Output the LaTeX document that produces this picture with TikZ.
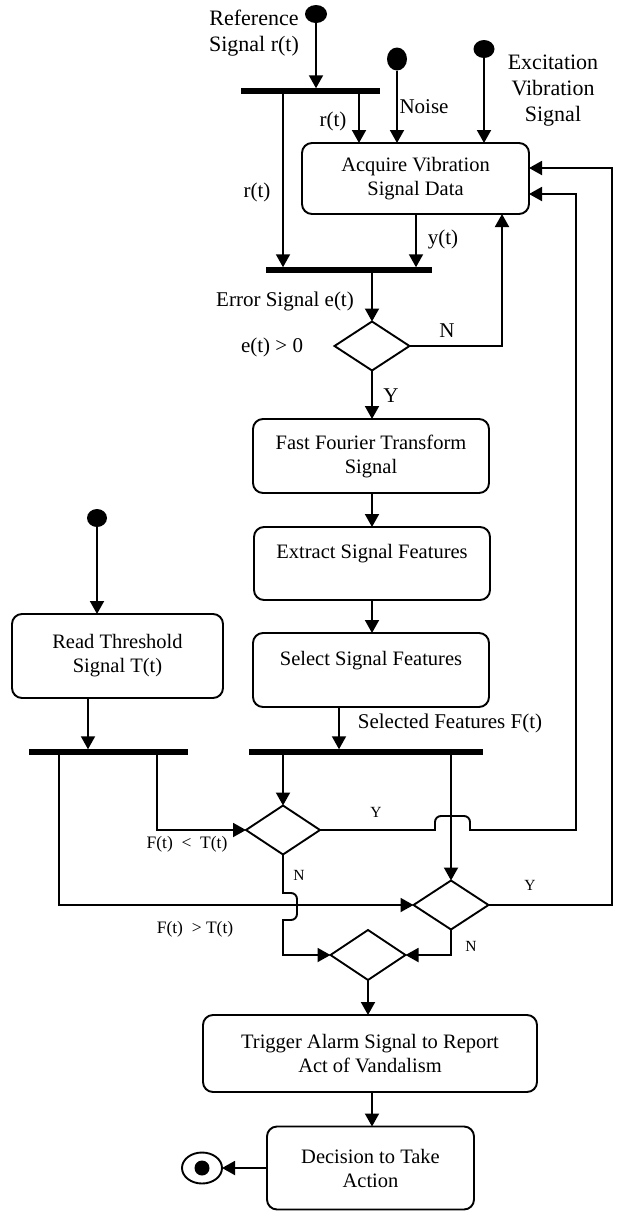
\documentclass[tikz,border=0pt]{standalone}
\usepackage{fontspec}
\setmainfont{Liberation Serif}
\usetikzlibrary{arrows.meta,shapes.geometric,calc}
\begin{document}
\begin{tikzpicture}[x=1pt,y=-1pt,
  line width=1.9pt,
  every node/.style={inner sep=0pt, outer sep=0pt},
  act/.style={draw, rounded corners=10pt, line width=1.9pt, align=center, font=\fontsize{20.5}{24}\selectfont},
  bar/.style={fill=black, minimum height=5.5pt},
  dec/.style={draw, diamond, line width=1.9pt},
  start/.style={ellipse, fill=black},
  flow/.style={-{Triangle[length=13pt,width=14pt]}},
  biglbl/.style={font=\fontsize{22}{26}\selectfont, align=center},
  lbl/.style={font=\fontsize{21}{25}\selectfont, align=center},
  slbl/.style={font=\fontsize{17.5}{20}\selectfont},
  tlbl/.style={font=\fontsize{15.5}{18}\selectfont},
]
\useasboundingbox (0,0) rectangle (617,1211);

% columns and rows
\coordinate (c59) at (59,0);
\coordinate (c88) at (88,0);
\coordinate (c157) at (157,0);
\coordinate (c283) at (283,0);
\coordinate (c339) at (339,0);
\coordinate (c359) at (359,0);
\coordinate (c372) at (372,0);
\coordinate (c416) at (416,0);
\coordinate (c502) at (502,0);
\coordinate (c576) at (576,0);
\coordinate (c612) at (612,0);
\coordinate (r168) at (0,168);
\coordinate (r194) at (0,194);

% nodes
\node[start, minimum width=22pt, minimum height=18pt] (refdot) at (316,14) {};
\node[bar, minimum width=139pt] (bar1) at (310.5,91) {};
\node[start, minimum width=20pt, minimum height=23pt] (noisedot) at (397,59) {};
\node[start, minimum width=21pt, minimum height=18pt] (excdot) at (484,49) {};
\node[act, minimum width=227pt, minimum height=71pt] (acq) at (415.5,178.5) {Acquire Vibration\\Signal Data};
\node[bar, minimum width=166pt] (bar2) at (349,270) {};
\node[dec, minimum width=75pt, minimum height=49pt] (d1) at (372,346) {};
\node[act, minimum width=236pt, minimum height=74pt] (fft) at (371,456) {Fast Fourier Transform\\Signal};
\node[act, minimum width=236pt, minimum height=73pt] (ext) at (372,563.5) {Extract Signal Features\\\mbox{}};
\node[act, minimum width=236pt, minimum height=74pt] (sel) at (371,670) {Select Signal Features\\\mbox{}};
\node[start, minimum width=20pt, minimum height=18pt] (thdot) at (97,518) {};
\node[act, minimum width=211pt, minimum height=84pt] (read) at (117.5,656) {Read Threshold\\Signal T(t)};
\node[bar, minimum width=159pt] (barL) at (108.5,752) {};
\node[bar, minimum width=234pt] (barR) at (366,752) {};
\node[dec, minimum width=74pt, minimum height=49pt] (dA) at (283,830) {};
\node[dec, minimum width=75pt, minimum height=49pt] (dB) at (451,905) {};
\node[dec, minimum width=75pt, minimum height=50pt] (dC) at (368,955) {};
\node[act, minimum width=334pt, minimum height=77pt] (trig) at (370,1053.5) {Trigger Alarm Signal to Report\\Act of Vandalism};
\node[act, minimum width=207pt, minimum height=83pt] (decide) at (370.5,1168) {Decision to Take\\Action};
\node[ellipse, draw, line width=1.9pt, minimum width=40pt, minimum height=31pt] (endn) at (202,1168) {};
\node[circle, fill=black, minimum size=15pt] (enddot) at (endn.center) {};

% hop helper coordinates
\coordinate (hA1) at ($(dA.east -| dB.north)+(-16,0)$);
\coordinate (hA2) at ($(dA.east -| dB.north)+(-16,-14)$);
\coordinate (hA3) at ($(dA.east -| dB.north)+(19,-14)$);
\coordinate (hA4) at ($(dA.east -| dB.north)+(19,0)$);
\coordinate (hB1) at ($(dA.south |- dB.west)+(0,-12)$);
\coordinate (hB2) at ($(dA.south |- dB.west)+(14,-12)$);
\coordinate (hB3) at ($(dA.south |- dB.west)+(14,15)$);
\coordinate (hB4) at ($(dA.south |- dB.west)+(0,15)$);

% connectors
\draw[flow] (refdot) -- (refdot |- bar1.north);
\draw[flow] (bar1.south -| c359) -- (acq.north -| c359);
\draw[flow] (bar1.south -| c283) -- (bar2.north -| c283);
\draw[flow] (noisedot) -- (noisedot |- acq.north);
\draw[flow] (excdot) -- (excdot |- acq.north);
\draw[flow] (acq.south -| c416) -- (bar2.north -| c416);
\draw[flow] (bar2.south -| d1.north) -- (d1.north);
\draw[flow] (d1.east) -- (d1.east -| c502) -- (acq.south -| c502);
\draw[flow] (d1.south) -- (d1.south |- fft.north);
\draw[flow] (fft.south -| c372) -- (ext.north -| c372);
\draw[flow] (ext.south -| c372) -- (sel.north -| c372);
\draw[flow] (thdot) -- (thdot |- read.north);
\draw[flow] (read.south -| c88) -- (barL.north -| c88);
\draw[flow] (sel.south -| c339) -- (barR.north -| c339);
\draw[flow] (barL.south -| c157) -- (c157 |- dA.west) -- (dA.west);
\draw[flow] (barL.south -| c59) -- (c59 |- dB.west) -- (dB.west);
\draw[flow] (barR.south -| dA.north) -- (dA.north);
\draw[flow] (barR.south -| dB.north) -- (dB.north);
\draw[flow] (dA.east) -- (hA1) [rounded corners=6pt] -- (hA2) -- (hA3) [sharp corners] -- (hA4)
   -- (c576 |- dA.east) -- (c576 |- r194) -- (acq.east |- r194);
\draw[flow] (dB.east) -- (c612 |- dB.east) -- (c612 |- r168) -- (acq.east |- r168);
\draw[flow] (dA.south) -- (hB1) [rounded corners=6pt] -- (hB2) -- (hB3) [sharp corners] -- (hB4)
   -- (dA.south |- dC.west) -- (dC.west);
\draw[flow] (dB.south) -- (dB.south |- dC.east) -- (dC.east);
\draw[flow] (dC.south) -- (dC.south |- trig.north);
\draw[flow] (trig.south -| c372) -- (decide.north -| c372);
\draw[flow] (decide.west) -- (endn.east);

% labels
\node[biglbl] (lref) at (254,33) {Reference\\Signal r(t)};
\node[biglbl] (lexc) at (553,91) {Excitation\\Vibration\\Signal};
\node[lbl] (lnoise) at (424,107) {Noise};
\node[lbl] (lr1) at (333,121) {r(t)};
\node[lbl] (lr2) at (257,192) {r(t)};
\node[lbl] (ly) at (443,239) {y(t)};
\node[lbl] (lerr) at (285,301) {Error Signal e(t)};
\node[lbl] (le) at (272,347) {e(t) \textgreater{} 0};
\node[lbl] (lN1) at (447,331) {N};
\node[lbl] (lY1) at (391,396) {Y};
\node[lbl] (lsel) at (450,723) {Selected Features F(t)};
\node[slbl] (llt) at (187,844) {F(t)\ \ \textless\ \ T(t)};
\node[slbl] (lgt) at (195,929) {F(t)\ \ \textgreater\ T(t)};
\node[tlbl] (lYA) at (376,812) {Y};
\node[tlbl] (lYB) at (530,885) {Y};
\node[tlbl] (lNA) at (299,875) {N};
\node[tlbl] (lNB) at (471,946) {N};
\end{tikzpicture}
\end{document}
